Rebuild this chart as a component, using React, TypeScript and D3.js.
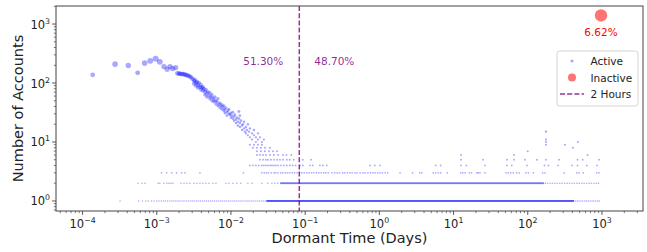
import * as d3 from 'd3';
import * as React from 'react';

// Values: x is dormant time in days, y is number of accounts.

// Active accounts on the rising / falling curve (days, accounts)
const curvePoints: [number, number][] = [
    [1.37e-4, 138], [2.74e-4, 209], [4.13e-4, 198], [5.53e-4, 149], [6.87e-4, 218], [8.17e-4, 238],
    [9.66e-4, 258], [1.10e-3, 229], [1.25e-3, 190], [1.38e-3, 172], [1.51e-3, 190], [1.64e-3, 176],
    [1.80e-3, 183], [1.90e-3, 146], [1.99e-3, 144], [2.08e-3, 143], [2.19e-3, 142], [2.29e-3, 141],
    [2.40e-3, 139], [2.51e-3, 136], [2.63e-3, 134], [2.76e-3, 130], [2.89e-3, 125], [3.03e-3, 118],
    [3.17e-3, 109], [3.17e-3, 97], [3.27e-3, 113], [3.37e-3, 101], [3.37e-3, 90], [3.48e-3, 105],
    [3.59e-3, 93], [3.59e-3, 83], [3.70e-3, 101], [3.82e-3, 86], [3.94e-3, 93], [3.94e-3, 77],
    [4.06e-3, 83], [4.19e-3, 74], [4.19e-3, 86], [4.32e-3, 80], [4.46e-3, 71], [4.46e-3, 63],
    [4.60e-3, 77], [4.74e-3, 66], [4.74e-3, 58], [4.89e-3, 71], [5.05e-3, 61], [5.20e-3, 68],
    [5.20e-3, 54], [5.37e-3, 58], [5.54e-3, 63], [5.54e-3, 50], [5.71e-3, 56], [5.89e-3, 48],
    [5.89e-3, 52], [6.08e-3, 58], [6.27e-3, 44], [6.27e-3, 50], [6.47e-3, 48], [6.67e-3, 41],
    [6.67e-3, 54], [6.88e-3, 44], [7.10e-3, 46], [7.10e-3, 38], [7.32e-3, 41], [7.55e-3, 36],
    [7.55e-3, 43], [7.79e-3, 39], [8.04e-3, 34], [8.04e-3, 41], [8.29e-3, 36], [8.29e-3, 31],
    [8.55e-3, 38], [8.82e-3, 32], [8.82e-3, 28], [9.10e-3, 34], [9.39e-3, 30], [9.39e-3, 36],
    [9.68e-3, 29], [9.99e-3, 31], [9.99e-3, 26], [1.03e-2, 28], [1.06e-2, 32], [1.06e-2, 25],
    [1.10e-2, 27], [1.10e-2, 23], [1.13e-2, 29], [1.17e-2, 24], [1.17e-2, 21], [1.20e-2, 26],
    [1.24e-2, 22], [1.24e-2, 19], [1.28e-2, 25], [1.28e-2, 33], [1.32e-2, 21], [1.32e-2, 18],
    [1.32e-2, 28], [1.36e-2, 23], [1.41e-2, 19], [1.41e-2, 16], [1.45e-2, 20], [1.50e-2, 17],
    [1.50e-2, 22], [1.54e-2, 15], [1.59e-2, 18], [1.59e-2, 14], [1.64e-2, 16], [1.69e-2, 20],
    [1.69e-2, 13], [1.75e-2, 15], [1.80e-2, 12], [1.80e-2, 17], [1.92e-2, 14], [1.92e-2, 11],
    [2.04e-2, 13], [2.04e-2, 16], [2.17e-2, 10], [2.17e-2, 12], [2.31e-2, 11], [2.31e-2, 14],
    [2.46e-2, 12], [2.61e-2, 10], [2.78e-2, 11],
];

// Scattered high counts far to the right
const outlierPoints: [number, number][] = [[176, 15], [176, 11], [176, 10], [474, 10]];

// Days at which a given small count shows up (one row of dots per count)
const onesDays = [
    3.2e-4, 5.7e-4, 6.4e-4, 7.1e-4, 7.7e-4, 8.5e-4, 9.2e-4, 1.0e-3, 1.07e-3, 1.15e-3, 1.23e-3, 1.31e-3,
    1.4e-3, 1.5e-3, 1.6e-3, 1.7e-3, 1.81e-3, 1.93e-3, 2.05e-3, 2.19e-3, 2.33e-3, 2.49e-3, 2.65e-3,
    2.83e-3, 3.01e-3, 3.2e-3, 3.41e-3, 3.63e-3, 3.87e-3, 4.12e-3, 4.39e-3, 4.68e-3, 4.98e-3, 5.3e-3,
    5.65e-3, 6.02e-3, 6.41e-3, 6.82e-3, 7.27e-3, 7.74e-3, 8.24e-3, 8.78e-3, 9.35e-3, 9.96e-3, 1.06e-2,
    1.13e-2, 1.2e-2, 1.28e-2, 1.36e-2, 1.45e-2, 1.55e-2, 1.65e-2, 1.75e-2, 1.87e-2, 1.99e-2, 2.12e-2,
    2.26e-2, 2.4e-2, 2.56e-2, 2.72e-2, 2.9e-2,
    440, 465, 490, 520, 550, 585, 620, 655, 695, 735, 780, 825, 875, 925,
];
const twosDays = [
    5.59e-4, 6.33e-4, 6.94e-4, 1.04e-3, 1.10e-3, 1.25e-3, 1.37e-3, 1.46e-3, 1.55e-3, 1.65e-3, 2.12e-3,
    2.33e-3, 2.55e-3, 2.80e-3, 3.17e-3, 3.48e-3, 3.82e-3, 4.19e-3, 4.60e-3, 5.05e-3, 5.71e-3, 6.27e-3,
    8.55e-3, 9.39e-3, 1.06e-2, 1.20e-2, 1.36e-2, 1.69e-2, 1.92e-2, 2.61e-2, 3.15e-2, 3.56e-2, 3.90e-2,
    4.27e-2,
    172, 185, 200, 215, 232, 250, 270, 290, 315, 340, 365, 395, 425, 460, 495, 535, 575, 620, 670,
    720, 780, 840, 900,
];
const threesDays = [
    1.16e-3, 1.36e-3, 1.59e-3, 1.85e-3, 2.17e-3, 2.4e-3, 3.82e-3, 1.47e-2,
    2.6e-2, 2.8e-2, 3.0e-2, 3.2e-2, 3.5e-2, 3.8e-2, 4.0e-2, 4.3e-2, 4.7e-2, 5.0e-2, 5.4e-2, 5.8e-2,
    6.2e-2, 6.7e-2, 7.2e-2, 7.8e-2, 8.4e-2, 9.0e-2, 9.7e-2, 0.105, 0.113, 0.122, 0.131, 0.142, 0.153,
    0.165, 0.178, 0.19, 0.205, 0.23, 0.25, 0.27, 0.29, 0.32, 0.34, 0.37, 0.4, 0.43, 0.47, 0.5, 0.55,
    0.6, 0.64, 0.7, 0.76, 0.82, 0.88, 0.95, 1.02, 1.1, 1.2, 1.3, 1.9, 2.8, 3.5,
    3.75, 5.32, 5.74, 6.22, 6.70, 8.22, 12.5, 13.3, 14.3, 16.3, 17.5, 20.5, 21.5, 22.7, 26.5, 50.8,
    54.6, 58.9, 63.7, 70.8, 76.7, 94.6, 102, 119, 159, 171, 310, 456, 490, 560, 849, 912,
];
const foursDays = [
    1.80e-2, 1.98e-2, 2.17e-2, 2.38e-2, 2.61e-2, 2.78e-2, 2.96e-2, 3.15e-2, 3.36e-2, 3.57e-2, 3.80e-2,
    4.05e-2, 4.31e-2, 4.72e-2, 5.17e-2, 5.66e-2, 6.24e-2, 6.80e-2, 7.45e-2, 8.51e-2, 9.33e-2, 0.116,
    0.127, 0.158, 0.173, 0.196, 0.747, 0.867, 1.02, 5.74, 6.70, 12.6, 14.9, 26.5, 52.4, 60.9, 97.6,
    168, 190, 256, 395, 468, 625, 855,
];
const fivesDays = [
    2.46e-2, 2.70e-2, 2.96e-2, 3.15e-2, 3.46e-2, 3.80e-2, 4.18e-2, 4.57e-2, 5.02e-2, 5.66e-2, 6.2e-2,
    7.0e-2, 9.3e-2, 0.12, 12.6, 24.9, 52.5, 65.2, 91.7, 133, 176, 264, 468, 550, 912,
];
const sixesDays = [
    2.24e-2, 2.46e-2, 2.70e-2, 2.96e-2, 3.36e-2, 3.80e-2, 4.31e-2, 5.02e-2, 5.6e-2, 6.5e-2, 12.6, 65.2, 640,
];
const sevensDays = [2.24e-2, 2.53e-2, 2.87e-2, 3.25e-2, 3.69e-2, 4.18e-2, 100];
const eightsDays = [1.98e-2, 2.24e-2, 2.53e-2, 2.87e-2, 3.36e-2, 406];
const ninesDays = [1.80e-2, 2.04e-2, 2.31e-2, 2.61e-2, 176, 317];

// Stretches where a row is so dense it reads as a solid line: [count, from days, to days]
const denseRuns: [number, number, number][] = [
    [1, 0.03, 420],
    [2, 0.046, 165],
];

// Inactive accounts
const inactivePoints: [number, number][] = [[970, 1400]];

const cutoffDays = 2 / 24;
const shareBefore = '51.30%';
const shareAfter = '48.70%';
const inactiveShare = '6.62%';

const xTickExponents = [-4, -3, -2, -1, 0, 1, 2, 3];
const yTickExponents = [0, 1, 2, 3];

const width = 647;
const height = 252;
const plot = { left: 56, right: 643, top: 6, bottom: 211 };
const font = 'DejaVu Sans, sans-serif';
const ink = '#222';
const activeColor = '#0000ff';
const inactiveColor = '#ff0000';
const cutoffColor = '#800080';

const minorTicks = (lo: number, hi: number, domain: number[]) => {
    const out: number[] = [];
    for (let e = lo; e <= hi; e++) {
        for (let k = 2; k <= 9; k++) {
            const v = k * Math.pow(10, e);
            if (v >= domain[0] && v <= domain[1]) out.push(v);
        }
    }
    return out;
};

const Power = ({ exp }: { exp: number }) => (
    <>
        10<tspan dy={-5} fontSize={7.8}>{exp < 0 ? '\u2212' + -exp : exp}</tspan>
    </>
);

export default function App() {
    const x = d3.scaleLog().domain([4.385e-5, 3573]).range([plot.left, plot.right]);
    const y = d3.scaleLog().domain([0.676, 2023]).range([plot.bottom, plot.top]);
    const radius = (count: number) => 0.15 * Math.sqrt(count) + 0.6;

    const rows: [number, number[]][] = [
        [1, onesDays], [2, twosDays], [3, threesDays], [4, foursDays], [5, fivesDays],
        [6, sixesDays], [7, sevensDays], [8, eightsDays], [9, ninesDays],
    ];
    const activePoints: [number, number][] = [
        ...curvePoints,
        ...outlierPoints,
        ...rows.flatMap(([count, days]) => days.map(d => [d, count] as [number, number])),
    ];

    const xMinor = minorTicks(-5, 3, x.domain());
    const yMinor = minorTicks(-1, 3, y.domain());
    const cx = x(cutoffDays);

    return (
        <svg
            width={width}
            height={height}
            style={{ position: 'absolute', left: 0, top: 0, background: '#fff' }}
            fontFamily={font}
        >
            <defs>
                <clipPath id="plot-clip">
                    <rect x={plot.left} y={plot.top} width={plot.right - plot.left} height={plot.bottom - plot.top} />
                </clipPath>
            </defs>

            <g clipPath="url(#plot-clip)">
                {denseRuns.map(([count, from, to], i) => (
                    <rect
                        key={'run' + i}
                        x={x(from)}
                        y={y(count) - 0.9}
                        width={x(to) - x(from)}
                        height={1.8}
                        fill={activeColor}
                        fillOpacity={count === 1 ? 0.72 : 0.55}
                    />
                ))}
                {activePoints.map(([d, c], i) => (
                    <circle key={'a' + i} cx={x(d)} cy={y(c)} r={radius(c)} fill={activeColor} fillOpacity={0.34} />
                ))}
                {inactivePoints.map(([d, c], i) => (
                    <circle key={'i' + i} cx={x(d)} cy={y(c)} r={radius(c)} fill={inactiveColor} fillOpacity={0.55} />
                ))}
                <line
                    x1={cx} x2={cx} y1={plot.top} y2={plot.bottom}
                    stroke={cutoffColor} strokeOpacity={0.8} strokeWidth={1.5} strokeDasharray="5,2.2"
                />
            </g>

            <text x={cx - 16} y={61} textAnchor="end" dominantBaseline="central" fontSize={10.5} fill={cutoffColor} fillOpacity={0.85}>
                {shareBefore}
            </text>
            <text x={cx + 15} y={61} textAnchor="start" dominantBaseline="central" fontSize={10.5} fill={cutoffColor} fillOpacity={0.85}>
                {shareAfter}
            </text>
            <text x={x(inactivePoints[0][0])} y={32} textAnchor="middle" dominantBaseline="central" fontSize={10.5} fill={inactiveColor}>
                {inactiveShare}
            </text>

            {/* frame */}
            <rect
                x={plot.left} y={plot.top} width={plot.right - plot.left} height={plot.bottom - plot.top}
                fill="none" stroke="#444" strokeWidth={1}
            />

            {/* x axis */}
            {xMinor.map((v, i) => (
                <line key={'xm' + i} x1={x(v)} x2={x(v)} y1={plot.bottom} y2={plot.bottom + 2.2} stroke="#444" strokeWidth={0.7} />
            ))}
            {xTickExponents.map(e => (
                <g key={'xt' + e}>
                    <line x1={x(Math.pow(10, e))} x2={x(Math.pow(10, e))} y1={plot.bottom} y2={plot.bottom + 3.9} stroke="#444" strokeWidth={0.9} />
                    <text x={x(Math.pow(10, e))} y={plot.bottom + 17} textAnchor="middle" fontSize={11.5} fill={ink}>
                        <Power exp={e} />
                    </text>
                </g>
            ))}

            {/* y axis */}
            {yMinor.map((v, i) => (
                <line key={'ym' + i} x1={plot.left - 2.2} x2={plot.left} y1={y(v)} y2={y(v)} stroke="#444" strokeWidth={0.7} />
            ))}
            {yTickExponents.map(e => (
                <g key={'yt' + e}>
                    <line x1={plot.left - 3.9} x2={plot.left} y1={y(Math.pow(10, e))} y2={y(Math.pow(10, e))} stroke="#444" strokeWidth={0.9} />
                    <text x={plot.left - 6} y={y(Math.pow(10, e)) + 4.5} textAnchor="end" fontSize={11.5} fill={ink}>
                        <Power exp={e} />
                    </text>
                </g>
            ))}

            <text x={(plot.left + plot.right) / 2} y={243} textAnchor="middle" fontSize={14.5} fill={ink}>
                Dormant Time (Days)
            </text>
            <text
                transform={`translate(18,${(plot.top + plot.bottom) / 2}) rotate(-90)`}
                textAnchor="middle" dominantBaseline="central" fontSize={14.5} fill={ink}
            >
                Number of Accounts
            </text>

            {/* legend */}
            <g>
                <rect x={557} y={51} width={81} height={55} rx={2.5} fill="#fff" fillOpacity={0.8} stroke="#d0d0d0" strokeWidth={0.9} />
                <circle cx={572} cy={61} r={1.6} fill={activeColor} fillOpacity={0.34} />
                <circle cx={572} cy={77.5} r={4} fill={inactiveColor} fillOpacity={0.55} />
                <line x1={560} x2={584} y1={94} y2={94} stroke={cutoffColor} strokeOpacity={0.8} strokeWidth={1.5} strokeDasharray="5,2.2" />
                <text x={590.5} y={61} dominantBaseline="central" fontSize={10.5} fill={ink}>Active</text>
                <text x={590.5} y={77.5} dominantBaseline="central" fontSize={10.5} fill={ink}>Inactive</text>
                <text x={590.5} y={94} dominantBaseline="central" fontSize={10.5} fill={ink}>2 Hours</text>
            </g>
        </svg>
    );
}
